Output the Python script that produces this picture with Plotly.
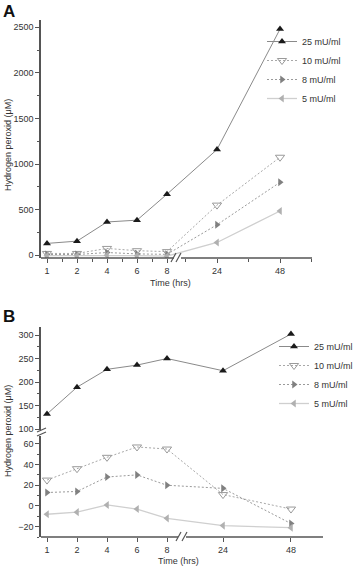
import plotly.graph_objects as go

# ---------------- data ----------------
hours = [1, 2, 4, 6, 8, 24, 48]
tick_labels = ["1", "2", "4", "6", "8", "24", "48"]
series_names = ["25 mU/ml", "10 mU/ml", "8 mU/ml", "5 mU/ml"]

A_25 = [130, 155, 365, 385, 670, 1160, 2480]
A_10 = [20, 20, 75, 50, 40, 550, 1075]
A_8 = [8, 8, 30, 15, 10, 335, 800]
A_5 = [-5, -5, 0, -3, -10, 140, 485]

B_25 = [132, 189, 227, 236, 250, 224, 302]
B_10 = [25, 36, 47, 57, 55, 11, -3]
B_8 = [13, 14, 28, 30, 20, 17, -17]
B_5 = [-8, -6, 1, -3, -12, -19, -21]

A_yticks = [0, 500, 1000, 1500, 2000, 2500]
B_upper_ticks = [100, 150, 200, 250, 300]
B_lower_ticks = [-20, 0, 20, 40, 60]

LEFT_HOURS = [h for h in hours if h <= 8]

W, H = 358, 569


def X(px):
    return px / W


def Y(py):
    return 1 - py / H


def xpos(hrs, p24, k):
    """Broken time axis: early hours spaced evenly, late hours linear."""
    out = []
    for h in hrs:
        if h in LEFT_HOURS:
            out.append(LEFT_HOURS.index(h))
        else:
            out.append(p24 + (h - 24) * k)
    return out


# axis geometry (index units)
A_P24, A_K = 5.667, 0.0875
B_P24, B_K = 5.867, 0.0944

FONT = "Liberation Sans, Arial, sans-serif"
AX = "#555555"

styles = [
    dict(line=dict(color="#8a8a8a", width=1), marker=dict(symbol="triangle-up", size=7, color="#1a1a1a")),
    dict(line=dict(color="#a8a8a8", width=1, dash="2px,2px"),
         marker=dict(symbol="triangle-down-open", size=8, color="#9a9a9a", line=dict(width=1))),
    dict(line=dict(color="#9a9a9a", width=1, dash="2px,2px"), marker=dict(symbol="triangle-right", size=7, color="#808080")),
    dict(line=dict(color="#cfcfcf", width=1.3), marker=dict(symbol="triangle-left", size=7, color="#b0b0b0")),
]

fig = go.Figure()

xa = xpos(hours, A_P24, A_K)
for name, vals, st in zip(series_names, [A_25, A_10, A_8, A_5], styles):
    fig.add_trace(go.Scatter(x=xa, y=vals, name=name, mode="lines+markers",
                             xaxis="x", yaxis="y", legend="legend", **st))

xb = xpos(hours, B_P24, B_K)
for i, (name, vals, st) in enumerate(zip(series_names, [B_25, B_10, B_8, B_5], styles)):
    fig.add_trace(go.Scatter(x=xb, y=vals, name=name, mode="lines+markers",
                             xaxis="x2", yaxis="y3" if i == 0 else "y2",
                             legend="legend2", **st))

tickfont = dict(family=FONT, size=9, color="#333333")
common_y = dict(showline=True, linecolor=AX, linewidth=1.5, ticks="outside", ticklen=4,
                tickcolor=AX, tickwidth=1.2, showgrid=False, zeroline=False,
                tickfont=tickfont, tickmode="array")
common_x = dict(showline=False, ticks="outside", ticklen=4, tickcolor=AX, tickwidth=1.2,
                showgrid=False, zeroline=False, tickfont=tickfont, tickmode="array")

# minor tick positions on A's time axis
A_minor = [i + 0.5 for i in range(len(LEFT_HOURS) - 1)] + xpos([12, 36, 60], A_P24, A_K)

fig.update_layout(
    width=W, height=H,
    margin=dict(l=0, r=0, t=0, b=0, autoexpand=False),
    paper_bgcolor="white", plot_bgcolor="white",
    font=dict(family=FONT, size=9, color="#333333"),
    xaxis=dict(domain=[X(41), X(312)], range=[-0.2, 8.833], anchor="y",
               tickvals=xa, ticktext=tick_labels,
               minor=dict(tickmode="array", tickvals=A_minor, ticklen=2.5, tickcolor=AX, ticks="outside"),
               **common_x),
    yaxis=dict(domain=[Y(258), Y(20)], range=[-30, 2580], anchor="x",
               tickvals=A_yticks,
               minor=dict(dtick=250, ticklen=2.5, tickcolor=AX, ticks="outside"),
               **common_y),
    xaxis2=dict(domain=[X(41), X(323)], range=[-0.2, 9.2], anchor="y2",
                tickvals=xb, ticktext=tick_labels, **common_x),
    yaxis2=dict(domain=[Y(537), Y(436)], range=[-30, 67.6], anchor="x2",
                tickvals=B_lower_ticks,
                minor=dict(dtick=10, ticklen=2.5, tickcolor=AX, ticks="outside"),
                **common_y),
    yaxis3=dict(domain=[Y(430), Y(327)], range=[98, 317], anchor="x2",
                tickvals=B_upper_ticks,
                minor=dict(dtick=25, ticklen=2.5, tickcolor=AX, ticks="outside"),
                **common_y),
    legend=dict(x=X(346), y=Y(27), xanchor="right", yanchor="top",
                bgcolor="rgba(0,0,0,0)", font=dict(family=FONT, size=9, color="#333333"),
                tracegroupgap=0),
    legend2=dict(x=1.0, y=Y(332), xanchor="right", yanchor="top",
                 bgcolor="rgba(0,0,0,0)", font=dict(family=FONT, size=9, color="#333333"),
                 tracegroupgap=0),
    showlegend=True,
)

# broken axis lines and break marks
shapes = []
def seg(x0, y0, x1, y1, w=1.5):
    shapes.append(dict(type="line", xref="paper", yref="paper",
                       x0=X(x0), y0=Y(y0), x1=X(x1), y1=Y(y1),
                       line=dict(color=AX, width=w)))

# panel A x axis
seg(41, 258, 174, 258)
seg(181, 258, 312, 258)
seg(171, 262, 176, 253, 1.2)
seg(176, 262, 181, 253, 1.2)
# panel B x axis
seg(41, 537, 178, 537)
seg(186, 537, 323, 537)
seg(176, 541, 181, 532, 1.2)
seg(182, 541, 187, 532, 1.2)
# panel B y-axis break marks
seg(37, 432, 46, 428, 1.2)
seg(37, 436, 46, 432, 1.2)
fig.update_layout(shapes=shapes)

ann = [
    dict(text="<b>A</b>", x=X(1), y=Y(0), xanchor="left", yanchor="top", font=dict(size=17, color="#111")),
    dict(text="<b>B</b>", x=X(1), y=Y(305), xanchor="left", yanchor="top", font=dict(size=17, color="#111")),
    dict(text="Hydrogen peroxid (μM)", x=X(8), y=Y(145), textangle=-90, xanchor="center", yanchor="middle",
         font=dict(size=9, color="#333")),
    dict(text="Hydrogen peroxid (μM)", x=X(8), y=Y(431), textangle=-90, xanchor="center", yanchor="middle",
         font=dict(size=9, color="#333")),
    dict(text="Time (hrs)", x=X(170), y=Y(283), xanchor="center", yanchor="middle", font=dict(size=9, color="#333")),
    dict(text="Time (hrs)", x=X(178), y=Y(561), xanchor="center", yanchor="middle", font=dict(size=9, color="#333")),
]
for a in ann:
    a.update(xref="paper", yref="paper", showarrow=False)
    a["font"]["family"] = FONT
fig.update_layout(annotations=ann)

# remove the default page margin so the figure sits at the window's top-left corner
fig.write_html("out.html",
               config={"displayModeBar": False},
               post_script="document.body.style.margin='0';document.body.style.overflow='hidden';")
